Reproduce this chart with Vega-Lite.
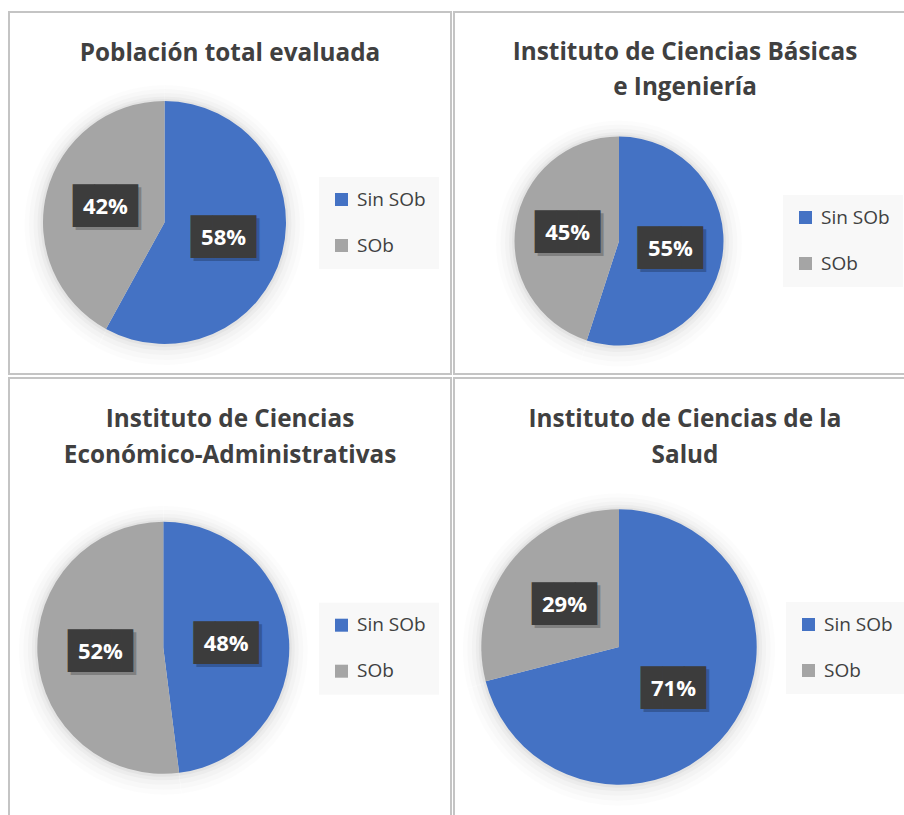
{
  "$schema": "https://vega.github.io/schema/vega-lite/v6.json",
  "background": "white",
  "padding": {"left": 8, "top": 11, "right": 0, "bottom": 0},
  "data": {"values": [
    {"grupo": "Población total evaluada", "categoria": "Sin SOb", "porcentaje": 0.58, "orden": 1},
    {"grupo": "Población total evaluada", "categoria": "SOb", "porcentaje": 0.42, "orden": 2},
    {"grupo": "Instituto de Ciencias Básicas e Ingeniería", "categoria": "Sin SOb", "porcentaje": 0.55, "orden": 1},
    {"grupo": "Instituto de Ciencias Básicas e Ingeniería", "categoria": "SOb", "porcentaje": 0.45, "orden": 2},
    {"grupo": "Instituto de Ciencias Económico-Administrativas", "categoria": "Sin SOb", "porcentaje": 0.48, "orden": 1},
    {"grupo": "Instituto de Ciencias Económico-Administrativas", "categoria": "SOb", "porcentaje": 0.52, "orden": 2},
    {"grupo": "Instituto de Ciencias de la Salud", "categoria": "Sin SOb", "porcentaje": 0.71, "orden": 1},
    {"grupo": "Instituto de Ciencias de la Salud", "categoria": "SOb", "porcentaje": 0.29, "orden": 2}
  ]},
  "columns": 2,
  "align": "each",
  "spacing": {"row": 2, "column": 1},
  "resolve": {"scale": {"color": "independent", "theta": "independent"}, "legend": {"color": "independent"}},
  "concat": [
    {
      "width": 442, "height": 362,
      "view": {"stroke": "#c4c4c4", "strokeWidth": 2, "fill": null},
      "title": {"text": "Población total evaluada", "offset": -54.5},
      "transform": [{"filter": "datum.grupo === 'Población total evaluada'"}],
      "encoding": {"theta": {"field": "porcentaje", "type": "quantitative", "stack": true}, "order": {"field": "orden", "type": "quantitative"}},
      "layer": [
        {"mark": {"type": "arc", "outerRadius": 140, "x": 155.5, "y": 213, "fill": "#000", "opacity": 0.012}},
        {"mark": {"type": "arc", "outerRadius": 135.5, "x": 155.5, "y": 212.5, "fill": "#000", "opacity": 0.016}},
        {"mark": {"type": "arc", "outerRadius": 131, "x": 155.5, "y": 212, "fill": "#000", "opacity": 0.02}},
        {"mark": {"type": "arc", "outerRadius": 127, "x": 155.5, "y": 211.5, "fill": "#000", "opacity": 0.026}},
        {"mark": {"type": "arc", "outerRadius": 124, "x": 155.5, "y": 211, "fill": "#000", "opacity": 0.035}},
        {"mark": {"type": "arc", "outerRadius": 121.5, "x": 155.5, "y": 210.5},
         "encoding": {"color": {"field": "categoria", "type": "nominal", "scale": {"domain": ["Sin SOb", "SOb"], "range": ["#4472C4", "#A5A5A5"]}, "legend": {"legendX": 310, "legendY": 165}}}},
        {"mark": {"type": "text", "text": "███", "font": "DejaVu Sans Mono", "fontSize": 36, "radius": 61, "x": 155.5, "y": 210.5, "dx": 3, "dy": 3, "fill": "#000", "opacity": 0.22}},
        {"mark": {"type": "text", "text": "███", "font": "DejaVu Sans Mono", "fontSize": 36, "radius": 61, "x": 155.5, "y": 210.5, "fill": "#3c3c3c"}},
        {"mark": {"type": "text", "radius": 61, "x": 155.5, "y": 210.5, "font": "Open Sans", "fontWeight": "bold", "fontSize": 22, "fill": "white"},
         "encoding": {"text": {"field": "porcentaje", "format": ".0%"}}}
      ]
    },
    {
      "width": 452, "height": 362,
      "view": {"stroke": "#c4c4c4", "strokeWidth": 2, "fill": null},
      "title": {"text": ["Instituto de Ciencias Básicas", "e Ingeniería"], "dx": 5, "offset": -88.5},
      "transform": [{"filter": "datum.grupo === 'Instituto de Ciencias Básicas e Ingeniería'"}],
      "encoding": {"theta": {"field": "porcentaje", "type": "quantitative", "stack": true}, "order": {"field": "orden", "type": "quantitative"}},
      "layer": [
        {"mark": {"type": "arc", "outerRadius": 123, "x": 165, "y": 231.5, "fill": "#000", "opacity": 0.012}},
        {"mark": {"type": "arc", "outerRadius": 118.5, "x": 165, "y": 231, "fill": "#000", "opacity": 0.016}},
        {"mark": {"type": "arc", "outerRadius": 114, "x": 165, "y": 230.5, "fill": "#000", "opacity": 0.02}},
        {"mark": {"type": "arc", "outerRadius": 110, "x": 165, "y": 230, "fill": "#000", "opacity": 0.026}},
        {"mark": {"type": "arc", "outerRadius": 107, "x": 165, "y": 229.5, "fill": "#000", "opacity": 0.035}},
        {"mark": {"type": "arc", "outerRadius": 104.5, "x": 165, "y": 229},
         "encoding": {"color": {"field": "categoria", "type": "nominal", "scale": {"domain": ["Sin SOb", "SOb"], "range": ["#4472C4", "#A5A5A5"]}, "legend": {"legendX": 329, "legendY": 183}}}},
        {"mark": {"type": "text", "text": "███", "font": "DejaVu Sans Mono", "fontSize": 36, "radius": 52, "x": 165, "y": 229, "dx": 3, "dy": 3, "fill": "#000", "opacity": 0.22}},
        {"mark": {"type": "text", "text": "███", "font": "DejaVu Sans Mono", "fontSize": 36, "radius": 52, "x": 165, "y": 229, "fill": "#3c3c3c"}},
        {"mark": {"type": "text", "radius": 52, "x": 165, "y": 229, "font": "Open Sans", "fontWeight": "bold", "fontSize": 22, "fill": "white"},
         "encoding": {"text": {"field": "porcentaje", "format": ".0%"}}}
      ]
    },
    {
      "width": 442, "height": 440,
      "view": {"stroke": "#c4c4c4", "strokeWidth": 2, "fill": null},
      "title": {"text": ["Instituto de Ciencias", "Económico-Administrativas"], "offset": -90.2},
      "transform": [{"filter": "datum.grupo === 'Instituto de Ciencias Económico-Administrativas'"}],
      "encoding": {"theta": {"field": "porcentaje", "type": "quantitative", "stack": true}, "order": {"field": "orden", "type": "quantitative"}},
      "layer": [
        {"mark": {"type": "arc", "outerRadius": 144.5, "x": 154.3, "y": 272.3, "fill": "#000", "opacity": 0.012}},
        {"mark": {"type": "arc", "outerRadius": 140, "x": 154.3, "y": 271.8, "fill": "#000", "opacity": 0.016}},
        {"mark": {"type": "arc", "outerRadius": 135.5, "x": 154.3, "y": 271.3, "fill": "#000", "opacity": 0.02}},
        {"mark": {"type": "arc", "outerRadius": 131.5, "x": 154.3, "y": 270.8, "fill": "#000", "opacity": 0.026}},
        {"mark": {"type": "arc", "outerRadius": 128.5, "x": 154.3, "y": 270.3, "fill": "#000", "opacity": 0.035}},
        {"mark": {"type": "arc", "outerRadius": 126, "x": 154.3, "y": 269.8},
         "encoding": {"color": {"field": "categoria", "type": "nominal", "scale": {"domain": ["Sin SOb", "SOb"], "range": ["#4472C4", "#A5A5A5"]}, "legend": {"legendX": 310, "legendY": 224.7}}}},
        {"mark": {"type": "text", "text": "███", "font": "DejaVu Sans Mono", "fontSize": 36, "radius": 63, "x": 154.3, "y": 269.8, "dx": 3, "dy": 3, "fill": "#000", "opacity": 0.22}},
        {"mark": {"type": "text", "text": "███", "font": "DejaVu Sans Mono", "fontSize": 36, "radius": 63, "x": 154.3, "y": 269.8, "fill": "#3c3c3c"}},
        {"mark": {"type": "text", "radius": 63, "x": 154.3, "y": 269.8, "font": "Open Sans", "fontWeight": "bold", "fontSize": 22, "fill": "white"},
         "encoding": {"text": {"field": "porcentaje", "format": ".0%"}}}
      ]
    },
    {
      "width": 452, "height": 440,
      "view": {"stroke": "#c4c4c4", "strokeWidth": 2, "fill": null},
      "title": {"text": ["Instituto de Ciencias de la", "Salud"], "dx": 5, "offset": -90.2},
      "transform": [{"filter": "datum.grupo === 'Instituto de Ciencias de la Salud'"}],
      "encoding": {"theta": {"field": "porcentaje", "type": "quantitative", "stack": true}, "order": {"field": "orden", "type": "quantitative"}},
      "layer": [
        {"mark": {"type": "arc", "outerRadius": 156.2, "x": 165, "y": 271.5, "fill": "#000", "opacity": 0.012}},
        {"mark": {"type": "arc", "outerRadius": 151.7, "x": 165, "y": 271, "fill": "#000", "opacity": 0.016}},
        {"mark": {"type": "arc", "outerRadius": 147.2, "x": 165, "y": 270.5, "fill": "#000", "opacity": 0.02}},
        {"mark": {"type": "arc", "outerRadius": 143.2, "x": 165, "y": 270, "fill": "#000", "opacity": 0.026}},
        {"mark": {"type": "arc", "outerRadius": 140.2, "x": 165, "y": 269.5, "fill": "#000", "opacity": 0.035}},
        {"mark": {"type": "arc", "outerRadius": 137.7, "x": 165, "y": 269},
         "encoding": {"color": {"field": "categoria", "type": "nominal", "scale": {"domain": ["Sin SOb", "SOb"], "range": ["#4472C4", "#A5A5A5"]}, "legend": {"legendX": 332, "legendY": 224}}}},
        {"mark": {"type": "text", "text": "███", "font": "DejaVu Sans Mono", "fontSize": 36, "radius": 69, "x": 165, "y": 269, "dx": 3, "dy": 3, "fill": "#000", "opacity": 0.22}},
        {"mark": {"type": "text", "text": "███", "font": "DejaVu Sans Mono", "fontSize": 36, "radius": 69, "x": 165, "y": 269, "fill": "#3c3c3c"}},
        {"mark": {"type": "text", "radius": 69, "x": 165, "y": 269, "font": "Open Sans", "fontWeight": "bold", "fontSize": 22, "fill": "white"},
         "encoding": {"text": {"field": "porcentaje", "format": ".0%"}}}
      ]
    }
  ],
  "config": {
    "view": {"stroke": "#c4c4c4", "strokeWidth": 2},
    "title": {"font": "Open Sans", "fontWeight": "bold", "fontSize": 24.3, "color": "#404040", "anchor": "middle", "frame": "group", "baseline": "alphabetic", "lineHeight": 35.5},
    "legend": {"orient": "none", "title": null, "symbolType": "square", "symbolSize": 169, "symbolStrokeWidth": 0, "symbolOpacity": 1, "labelFont": "Open Sans", "labelFontSize": 19, "labelColor": "#404040", "rowPadding": 26, "padding": 13, "fillColor": "#f8f8f8", "labelOffset": 6, "strokeColor": null}
  }
}
